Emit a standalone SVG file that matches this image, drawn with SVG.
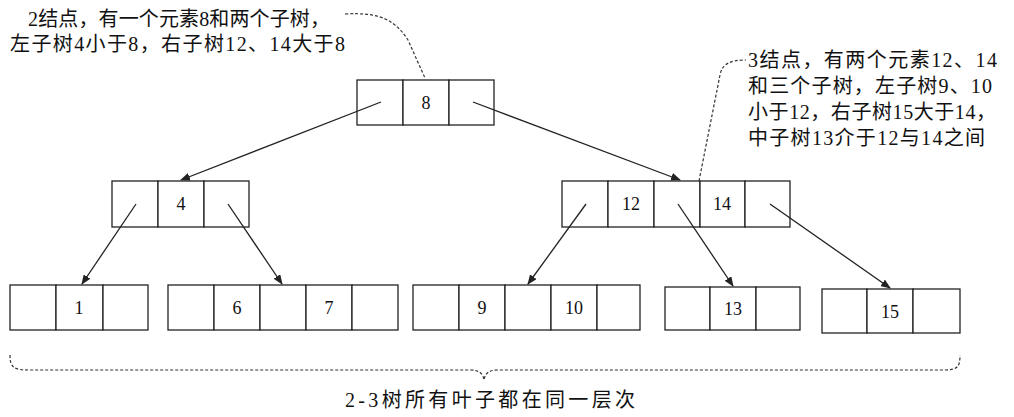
<svg xmlns="http://www.w3.org/2000/svg" width="1014" height="417" viewBox="0 0 1014 417">
<defs>
<marker id="ah" markerWidth="10" markerHeight="8" refX="9" refY="4" orient="auto" markerUnits="userSpaceOnUse"><path d="M0,0 L10,4 L0,8 Z" fill="#222"/></marker>
<style>
rect{fill:#fff;stroke:#222;stroke-width:1.3}
.c{stroke:#222;stroke-width:1.3;fill:none}
text{font-family:"Liberation Serif","Noto Sans CJK SC",serif;font-size:20px;fill:#111}
.n{text-anchor:middle;font-size:18px}
.d{stroke:#333;stroke-width:1.2;fill:none;stroke-dasharray:3,2}
</style>
</defs>
<rect width="1014" height="417" style="stroke:none"/>
<g id="root"><rect x="357" y="80" width="46" height="45"/><rect x="403" y="80" width="46" height="45"/><rect x="449" y="80" width="45" height="45"/><text class="n" x="426" y="109">8</text></g>
<g id="n4"><rect x="112" y="181" width="46" height="46"/><rect x="158" y="181" width="46" height="46"/><rect x="204" y="181" width="45" height="46"/><text class="n" x="181" y="210">4</text></g>
<g id="n1214"><rect x="562" y="181" width="46" height="46"/><rect x="608" y="181" width="46" height="46"/><rect x="654" y="181" width="46" height="46"/><rect x="700" y="181" width="45" height="46"/><rect x="745" y="181" width="45" height="46"/><text class="n" x="631" y="210">12</text><text class="n" x="722" y="210">14</text></g>
<g id="l1"><rect x="10" y="285" width="46" height="45"/><rect x="56" y="285" width="47" height="45"/><rect x="103" y="285" width="45" height="45"/><text class="n" x="79" y="314">1</text></g>
<g id="l67"><rect x="168" y="285" width="46" height="45"/><rect x="214" y="285" width="46" height="45"/><rect x="260" y="285" width="46" height="45"/><rect x="306" y="285" width="46" height="45"/><rect x="352" y="285" width="46" height="45"/><text class="n" x="237" y="314">6</text><text class="n" x="329" y="314">7</text></g>
<g id="l910"><rect x="413" y="285" width="46" height="45"/><rect x="459" y="285" width="46" height="45"/><rect x="505" y="285" width="46" height="45"/><rect x="551" y="285" width="46" height="45"/><rect x="597" y="285" width="43" height="45"/><text class="n" x="482" y="314">9</text><text class="n" x="574" y="314">10</text></g>
<g id="l13"><rect x="665" y="287" width="45" height="43"/><rect x="710" y="287" width="46" height="43"/><rect x="756" y="287" width="44" height="43"/><text class="n" x="733" y="315">13</text></g>
<g id="l15"><rect x="822" y="289" width="45" height="44"/><rect x="867" y="289" width="46" height="44"/><rect x="913" y="289" width="47" height="44"/><text class="n" x="890" y="318">15</text></g>
<g id="connectors">
<line class="c" x1="381" y1="102" x2="181" y2="180" marker-end="url(#ah)"/>
<line class="c" x1="473" y1="102" x2="680" y2="180" marker-end="url(#ah)"/>
<line class="c" x1="136" y1="204" x2="82" y2="284" marker-end="url(#ah)"/>
<line class="c" x1="228" y1="204" x2="282" y2="284" marker-end="url(#ah)"/>
<line class="c" x1="586" y1="204" x2="528" y2="284" marker-end="url(#ah)"/>
<line class="c" x1="678" y1="204" x2="733" y2="286" marker-end="url(#ah)"/>
<line class="c" x1="770" y1="204" x2="890" y2="288" marker-end="url(#ah)"/>
<path class="d" d="M345,14 C380,12 395,20 408,40 L425,78"/>
<path class="d" d="M699,181 L720,75 C722,64 730,60 746,60"/>
<path class="d" d="M10,355 C10,368 14,370 30,370 L470,370 C480,370 483,374 484,380 C485,374 488,370 498,370 L945,370 C958,370 960,366 960,355"/>
</g>
<text x="28" y="26" textLength="302" lengthAdjust="spacing">2结点，有一个元素8和两个子树，</text>
<text x="10" y="51" textLength="335" lengthAdjust="spacing">左子树4小于8，右子树12、14大于8</text>
<text x="748" y="67" textLength="249" lengthAdjust="spacing">3结点，有两个元素12、14</text>
<text x="748" y="93" textLength="244" lengthAdjust="spacing">和三个子树，左子树9、10</text>
<text x="748" y="119" textLength="248" lengthAdjust="spacing">小于12，右子树15大于14，</text>
<text x="748" y="145" textLength="237" lengthAdjust="spacing">中子树13介于12与14之间</text>
<text x="345" y="407" textLength="290" lengthAdjust="spacing">2-3树所有叶子都在同一层次</text>
</svg>
